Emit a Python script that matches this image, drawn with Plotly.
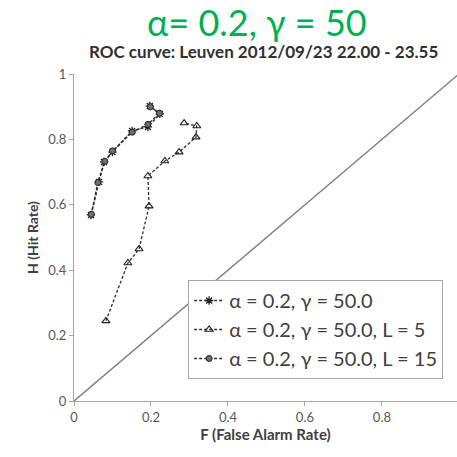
import plotly.graph_objects as go

# Series data (F = false alarm rate, H = hit rate)
s1_name = "α = 0.2, γ = 50.0"
s1_f = [0.044, 0.065, 0.078, 0.100, 0.151, 0.192, 0.223, 0.197]
s1_h = [0.569, 0.670, 0.731, 0.761, 0.826, 0.838, 0.878, 0.902]

s2_name = "α = 0.2, γ = 50.0, L = 5"
s2_f = [0.083, 0.140, 0.169, 0.195, 0.192, 0.236, 0.273, 0.317, 0.319, 0.286]
s2_h = [0.245, 0.422, 0.465, 0.596, 0.688, 0.734, 0.761, 0.807, 0.841, 0.850]

s3_name = "α = 0.2, γ = 50.0, L = 15"
s3_f = [0.045, 0.062, 0.080, 0.100, 0.151, 0.192, 0.222, 0.198]
s3_h = [0.571, 0.668, 0.733, 0.765, 0.822, 0.846, 0.880, 0.900]

diag = [0, 1]

x_ticks = [0, 0.2, 0.4, 0.6, 0.8]
y_ticks = [0, 0.2, 0.4, 0.6, 0.8, 1]

fig = go.Figure()

fig.add_trace(go.Scatter(x=diag, y=diag, mode="lines", showlegend=False,
                         line=dict(color="#7f7f7f", width=1.5), hoverinfo="skip"))

fig.add_trace(go.Scatter(x=s1_f, y=s1_h, mode="lines+markers", name=s1_name,
                         line=dict(color="#303030", width=1.5, dash="3px,2px"),
                         marker=dict(symbol="asterisk-open", size=7, color="#202020",
                                     line=dict(width=1.3, color="#202020"))))
fig.add_trace(go.Scatter(x=s2_f, y=s2_h, mode="lines+markers", name=s2_name,
                         line=dict(color="#303030", width=1.3, dash="3px,2px"),
                         marker=dict(symbol="triangle-up-open", size=7, color="#202020",
                                     line=dict(width=1.1, color="#202020"))))
fig.add_trace(go.Scatter(x=s3_f, y=s3_h, mode="lines+markers", name=s3_name,
                         line=dict(color="#303030", width=1.5, dash="3px,2px"),
                         marker=dict(symbol="circle", size=6, color="#707070",
                                     line=dict(width=1, color="#202020"))))

fig.update_layout(
    width=457, height=457,
    margin=dict(l=74, r=0, t=74, b=56),
    paper_bgcolor="white", plot_bgcolor="white",
    font=dict(family="Lato, Open Sans, sans-serif", color="#595959"),
    xaxis=dict(range=[0, 0.995], tickvals=x_ticks, ticktext=["0", "0.2", "0.4", "0.6", "0.8"],
               showgrid=False, zeroline=False, showline=True, linecolor="#a6a6a6", linewidth=1,
               ticks="outside", ticklen=4, tickcolor="#a6a6a6", tickfont=dict(size=13, color="#595959"),
               automargin=False,
               title=dict(text="<b>F (False Alarm Rate)</b>", font=dict(size=15, color="#404040"), standoff=4)),
    yaxis=dict(range=[0, 1], tickvals=y_ticks, ticktext=["0", "0.2", "0.4", "0.6", "0.8", "1"],
               showgrid=False, zeroline=False, showline=True, linecolor="#a6a6a6", linewidth=1,
               ticks="outside", ticklen=4, tickcolor="#a6a6a6", tickfont=dict(size=13, color="#595959"),
               automargin=False,
               title=dict(text="<b>H (Hit Rate)</b>", font=dict(size=14, color="#404040"), standoff=6)),
    legend=dict(x=0.298, y=0.37, xanchor="left", yanchor="top",
                bordercolor="#a6a6a6", borderwidth=1, bgcolor="white",
                font=dict(size=20, color="#404040"), tracegroupgap=0, itemwidth=30),
    showlegend=True,
)

fig.add_annotation(text="α= 0.2, γ = 50", xref="paper", yref="paper",
                   x=0.478, y=1.0, yshift=52, xanchor="center", yanchor="middle", showarrow=False,
                   font=dict(size=36, color="#00b050", family="Lato, Open Sans, sans-serif"))
fig.add_annotation(text="<b>ROC curve: Leuven 2012/09/23 22.00 - 23.55</b>", xref="paper", yref="paper",
                   x=0.496, y=1.0, yshift=23, xanchor="center", yanchor="middle", showarrow=False,
                   font=dict(size=17, color="#303030", family="Lato, Open Sans, sans-serif"))

fig.write_html("out.html", config={"displayModeBar": False},
               post_script="document.body.style.margin='0';document.body.style.overflow='hidden';")
